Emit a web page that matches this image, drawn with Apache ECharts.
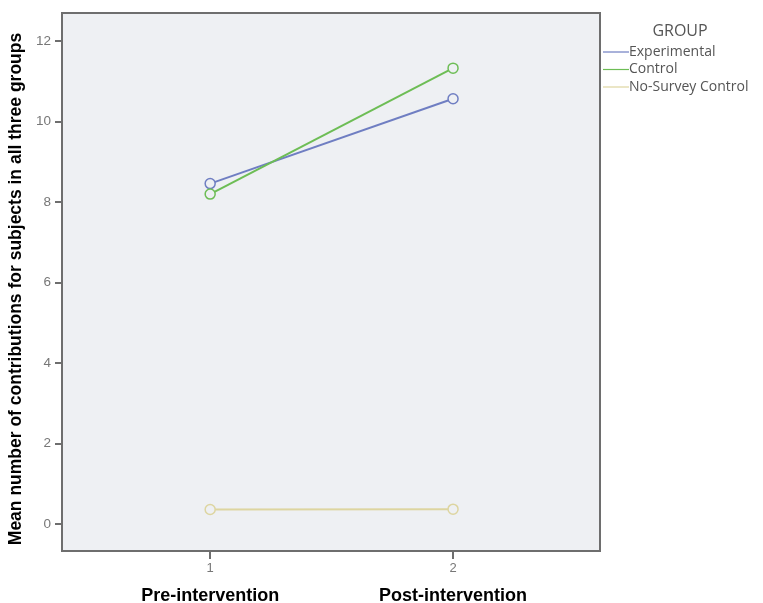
<!DOCTYPE html>
<html>
<head>
<meta charset="utf-8">
<script src="https://cdn.jsdelivr.net/npm/echarts@6/dist/echarts.min.js"></script>
<style>html,body{margin:0;padding:0;background:#fff;}#c{width:763px;height:603px;}</style>
</head>
<body>
<div id="c"></div>
<script>
const timePoints = [1, 2];
const timeNames = {1: 'Pre-intervention', 2: 'Post-intervention'};
const yTicks = [0, 2, 4, 6, 8, 10, 12];
const seriesNames = ['Experimental', 'Control', 'No-Survey Control'];
const experimental = [8.46, 10.57];
const control = [8.2, 11.33];
const noSurvey = [0.36, 0.37];
const seriesValues = [experimental, control, noSurvey];
const colors = ['#6f7ec2', '#6dbd55', '#ddd5a0'];

const chart = echarts.init(document.getElementById('c'), null, {renderer: 'canvas'});
const axisGrey = '#6e6e6e';
chart.setOption({
  animation: false,
  backgroundColor: '#ffffff',
  title: {
    text: 'GROUP', left: 680, top: 23, textAlign: 'center', padding: 0,
    textStyle: {fontFamily: 'Open Sans', fontSize: 16, fontWeight: 'normal', color: '#555'}
  },
  legend: {
    orient: 'vertical', left: 603, top: 44, padding: 0,
    itemWidth: 26, itemHeight: 1.2, itemGap: 1.5,
    icon: 'rect',
    textStyle: {fontFamily: 'Open Sans', fontSize: 14, color: '#555', lineHeight: 16, padding: [0, 0, 0, -5]},
    data: seriesNames.map((n, i) => ({name: n, itemStyle: {color: colors[i], borderWidth: 0}}))
  },
  grid: {
    left: 62, top: 13, right: 163, bottom: 52,
    containLabel: false, outerBoundsMode: 'none',
    show: true, backgroundColor: '#eef0f3', borderColor: axisGrey, borderWidth: 2
  },
  xAxis: {
    type: 'value', min: 0.39, max: 2.605,
    splitLine: {show: false},
    axisLine: {show: true, onZero: false, lineStyle: {color: axisGrey, width: 2}},
    axisTick: {show: true, length: 8, customValues: timePoints, lineStyle: {color: axisGrey, width: 2}},
    axisLabel: {
      customValues: timePoints, margin: 10,
      formatter: v => '{n|' + v + '}\n{t|' + timeNames[v] + '}',
      rich: {
        n: {fontFamily: 'Liberation Sans', fontSize: 13, color: '#777', lineHeight: 14},
        t: {fontFamily: 'Liberation Sans', fontSize: 18, fontWeight: 'bold', color: '#000', lineHeight: 42}
      }
    }
  },
  yAxis: {
    type: 'value', min: -0.67, max: 12.7,
    name: 'Mean number of contributions for subjects in all three groups',
    nameLocation: 'middle', nameGap: 32,
    nameTextStyle: {fontFamily: 'Liberation Sans', fontSize: 17.5, fontWeight: 'bold', color: '#000', padding: [0, 14, 0, 0]},
    splitLine: {show: false},
    axisLine: {show: true, onZero: false, lineStyle: {color: axisGrey, width: 2}},
    axisTick: {show: true, length: 7, customValues: yTicks, lineStyle: {color: axisGrey, width: 2}},
    axisLabel: {customValues: yTicks, margin: 11, fontFamily: 'Liberation Sans', fontSize: 13.5, color: '#777'}
  },
  series: seriesNames.map((name, i) => ({
    name: name,
    type: 'line',
    data: timePoints.map((t, j) => [t, seriesValues[i][j]]),
    color: colors[i],
    symbol: 'circle', symbolSize: 10,
    itemStyle: {color: '#eef0f3', borderColor: colors[i], borderWidth: 1.5},
    lineStyle: {color: colors[i], width: 2}
  }))
});
</script>
</body>
</html>
